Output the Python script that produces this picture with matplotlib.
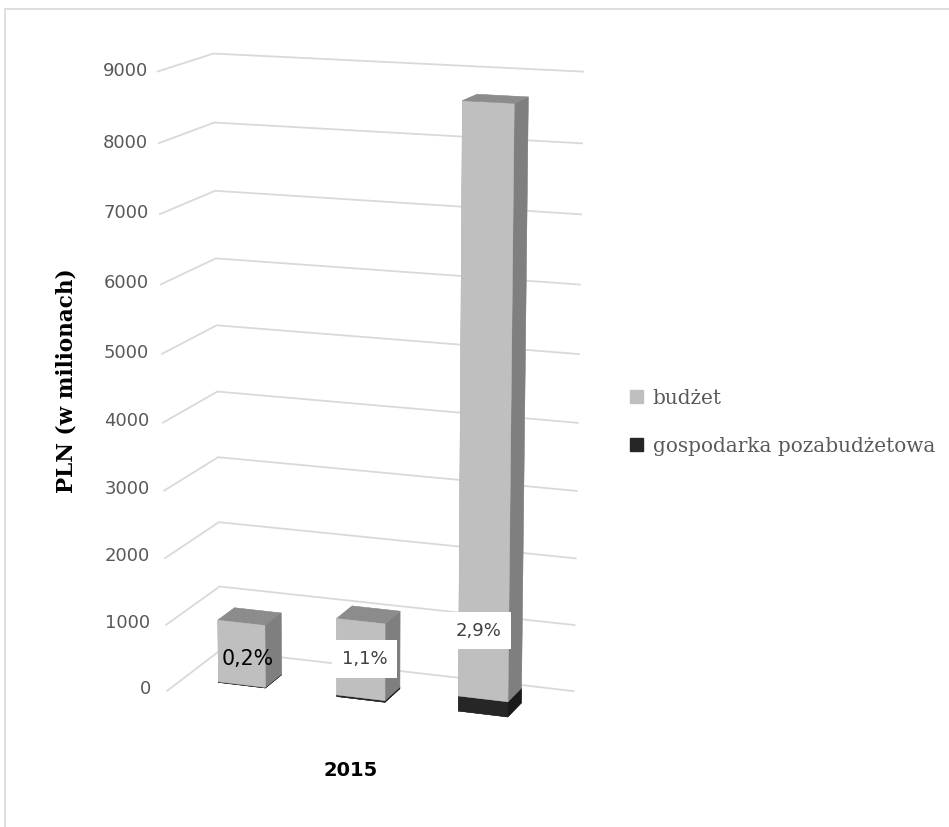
import numpy as np
import matplotlib
matplotlib.use("Agg")
import matplotlib.pyplot as plt
from matplotlib.patches import Patch, Rectangle
from mpl_toolkits.mplot3d import proj3d

# dane
etykiety = ["0,2%", "1,1%", "2,9%"]
budzet = [940, 1150, 8500]
pozabudzet = [10, 25, 225]
serie = ["budżet", "gospodarka pozabudżetowa"]
os_z = [0, 1000, 2000, 3000, 4000, 5000, 6000, 7000, 8000, 9000]
tytul_x = "2015"
tytul_y = "PLN (w milionach)"

W, H = 949, 827
fig = plt.figure(figsize=(W / 100, H / 100), dpi=100)

ax = fig.add_axes([0.0115, 0.0959, 0.7376, 0.846], projection="3d")
ax.set_axis_off()
ax.computed_zorder = False
ax.view_init(elev=13.5, azim=-70)
ax.set_proj_type("persp", focal_length=0.85)
n = len(budzet)
ax.set_xlim(0, n)
ax.set_ylim(0, 1)
ax.set_zlim(0, os_z[-1])
ax.set_box_aspect((382, 138, 622), zoom=1.055)

# linie siatki na lewej i tylnej scianie
for z in os_z:
    ax.plot([0, 0, n], [0, 1, 1], [z, z, z], color="#d9d9d9", lw=1.3, zorder=1)

# slupki: seria dolna (czarna) i gorna (szara) w jednej kolekcji
szer, gl, y0 = 0.4, 0.32, 0.3
poz = np.arange(n) + 0.5 - szer / 2
b = np.array(budzet, dtype=float)
p = np.array(pozabudzet, dtype=float)
kol_szary = ["#bfbfbf", "#8c8c8c", "#bfbfbf", "#bfbfbf", "#a6a6a6", "#7f7f7f"]
kol_czarny = ["#262626", "#404040", "#262626", "#262626", "#303030", "#1a1a1a"]
kolory = kol_czarny * n + kol_szary * n
ax.bar3d(np.concatenate([poz, poz]), np.full(2 * n, y0),
         np.concatenate([np.zeros(n), p]),
         szer, gl, np.concatenate([p, b]),
         color=kolory, edgecolor=kolory, linewidth=0.3, shade=False, zorder=2)

# rzutowanie punktow 3D na wspolrzedne figury (po ustaleniu polozenia osi)
fig.canvas.draw()
M = ax.get_proj()


def na_figure(x, y, z):
    xp, yp, _ = proj3d.proj_transform(x, y, z, M)
    disp = ax.transData.transform((xp, yp))
    return fig.transFigure.inverted().transform(disp)


# opisy osi wartosci
for z in os_z:
    fx, fy = na_figure(-0.08 - 0.06 * (1 - z / os_z[-1]), 0, z)
    fig.text(fx, fy, f"{z}", ha="right", va="center", color="#595959", fontsize=13)

# etykiety danych na przedniej scianie
suma = b + p
lab_z = np.minimum(suma / 2, 1200)
przes = [0.05, 0.03, -0.04]
for i, t in enumerate(etykiety):
    xc = poz[i] + szer / 2 + przes[i]
    if i == 0:
        fx, fy = na_figure(xc, y0, lab_z[i] - 60)
        fig.text(fx, fy, t, ha="center", va="center", fontsize=14.8, color="black")
    else:
        fx, fy = na_figure(xc, y0, lab_z[i] + 30)
        fig.text(fx, fy, t, ha="center", va="center", fontsize=13, color="#404040",
                 bbox=dict(facecolor="white", edgecolor="none", pad=7))

fig.text(67 / W, 1 - 381 / H, tytul_y, rotation=90, ha="center", va="center",
         fontsize=15.5, fontweight="bold", family="DejaVu Serif")
fig.text(351 / W, 1 - 771 / H, tytul_x, ha="center", va="center",
         fontsize=14, fontweight="bold")

uchwyty = [Patch(color="#bfbfbf"), Patch(color="#262626")]
fig.legend(uchwyty, serie, loc="center left", bbox_to_anchor=(630 / W, 1 - 422 / H),
           frameon=False, prop=dict(family="DejaVu Serif", size=14.4),
           labelcolor="#595959", handlelength=0.63, handleheight=0.63,
           handletextpad=0.5, labelspacing=1.45, borderaxespad=0, borderpad=0)

# ramka wykresu
fig.add_artist(Rectangle((5 / W, -0.1), 1.2, 1.1 - 9 / H, transform=fig.transFigure,
                         fill=False, ec="#d9d9d9", lw=1.2))

fig.savefig("out.png", dpi=100)
